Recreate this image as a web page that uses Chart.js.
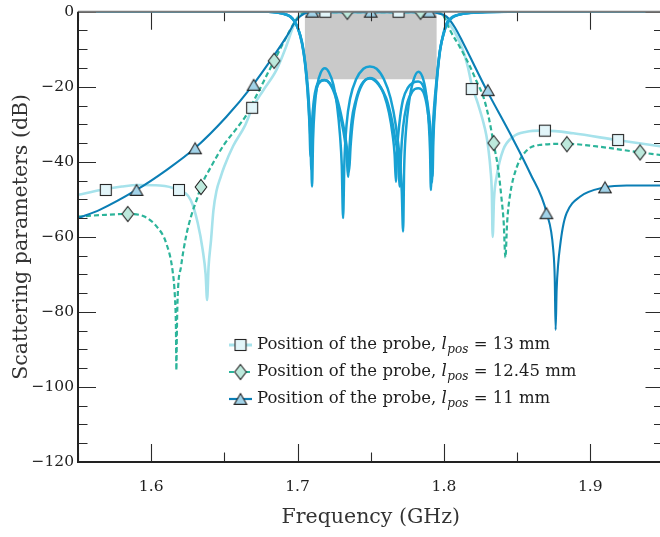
<!DOCTYPE html>
<html>
<head>
<meta charset="utf-8">
<script src="https://cdn.jsdelivr.net/npm/chart.js@4.4.0/dist/chart.umd.min.js"></script>
<style>
html,body{margin:0;padding:0;background:#fff;overflow:hidden;}
#wrap{width:660px;height:537px;overflow:hidden;position:relative;}
canvas{display:block;}
</style>
</head>
<body>
<div id="wrap"><canvas id="c" width="664" height="537"></canvas></div>
<script>
// ---------------- DATA ----------------
const xTicks = [1.6, 1.7, 1.8, 1.9];
const xMinorTicks = [1.55, 1.65, 1.75, 1.85, 1.95];
const yTicks = [-120, -100, -80, -60, -40, -20, 0];
const yMinorTicks = [-115,-110,-105,-95,-90,-85,-75,-70,-65,-55,-50,-45,-35,-30,-25,-15,-10,-5];
const xRange = [1.55, 1.95];
const yRange = [-120, 0];
const passbandMask = [[1.705, -18], [1.795, 0]];
const legendValues = ['13', '12.45', '11'];

// Transmission (S21), lpos = 13 mm
const s21_13 = [[1.55,-48.8],[1.5655,-47.5],[1.58,-46.6],[1.5908,-46.2],[1.6059,-46.3],[1.6181,-47.5],[1.627,-50.2],[1.6318,-56.3],[1.6352,-63.5],[1.6372,-70],[1.6382,-76.8],[1.6392,-68],[1.6409,-60.8],[1.6425,-53],[1.6446,-47.8],[1.6475,-44],[1.650,-41.2],[1.656,-35.8],[1.6639,-30.5],[1.6692,-25.6],[1.6765,-21],[1.6856,-15.5],[1.692,-9.5],[1.697,-4],[1.700,-1.5],[1.703,-0.4],[1.708,-0.1],[1.75,-0.1],[1.792,-0.1],[1.797,-0.4],[1.800,-1.0],[1.8018,-2.2],[1.8075,-5.5],[1.813,-10.2],[1.8165,-15],[1.819,-19.5],[1.8232,-24.5],[1.8266,-29],[1.829,-33],[1.8305,-37],[1.8318,-42],[1.8327,-48],[1.8333,-60],[1.8342,-50],[1.836,-43.9],[1.8405,-36.8],[1.8473,-33.3],[1.8565,-32],[1.8656,-31.7],[1.8695,-31.7],[1.8883,-32.4],[1.918,-34.2],[1.95,-36]];
// Transmission (S21), lpos = 12.45 mm
const s21_1245 = [[1.55,-54.6],[1.5655,-54.2],[1.584,-53.9],[1.5954,-54.6],[1.6045,-57.6],[1.6102,-61.6],[1.6148,-69.6],[1.6162,-76],[1.6169,-84],[1.6172,-95.5],[1.6176,-84],[1.6181,-75.9],[1.6204,-67.9],[1.6238,-59.9],[1.6272,-54.6],[1.6318,-49.3],[1.6339,-46.7],[1.6409,-41.3],[1.650,-35.3],[1.658,-31.3],[1.6651,-27.5],[1.670,-23.8],[1.675,-20],[1.6795,-16.5],[1.684,-13.1],[1.692,-7],[1.698,-2.8],[1.703,-0.6],[1.708,-0.1],[1.75,-0.1],[1.792,-0.1],[1.797,-0.3],[1.800,-1.3],[1.8041,-4.9],[1.811,-9.5],[1.8178,-14.6],[1.8228,-19],[1.8268,-22.5],[1.8305,-28],[1.8339,-35],[1.8371,-42],[1.8394,-50],[1.8408,-56],[1.842,-65.5],[1.8432,-56],[1.8451,-49],[1.8497,-41.5],[1.8565,-37],[1.8656,-35.5],[1.8838,-35.2],[1.9044,-35.9],[1.934,-37.5],[1.95,-38.3]];
// Transmission (S21), lpos = 11 mm
const s21_11 = [[1.55,-55],[1.5648,-52.8],[1.5899,-47.5],[1.6104,-42.2],[1.6298,-36.4],[1.6514,-28],[1.6696,-19.5],[1.6833,-12],[1.6924,-6.7],[1.6993,-2.2],[1.705,-0.4],[1.71,-0.1],[1.75,-0.1],[1.792,-0.1],[1.796,-0.4],[1.8018,-1.3],[1.8075,-4.2],[1.8132,-8.4],[1.8292,-20.9],[1.8451,-32.4],[1.8588,-43],[1.8702,-53.7],[1.8747,-63.5],[1.8757,-71],[1.8763,-84.8],[1.8770,-74],[1.8781,-67],[1.8793,-62.6],[1.8812,-57.5],[1.8838,-53.7],[1.8929,-49.3],[1.910,-46.8],[1.9248,-46.3],[1.95,-46.3]];

// Reflection (S11) curves
const s11_a = [[1.55,0],[1.68,0],[1.686,-0.2],[1.691,-0.6],[1.695,-1.3],[1.698,-2.6],[1.7005,-4.6],[1.703,-8],[1.7052,-13.5],[1.707,-20],[1.7083,-28],[1.7092,-36],[1.7099,-46.6],[1.7106,-34],[1.7118,-25],[1.7135,-19.5],[1.7158,-16.3],[1.7186,-15.1],[1.7215,-16.2],[1.7245,-19.5],[1.727,-25],[1.729,-33],[1.7302,-41],[1.7311,-55],[1.732,-40],[1.7335,-30],[1.736,-23],[1.740,-18],[1.745,-15.2],[1.7494,-14.6],[1.754,-15.2],[1.759,-18],[1.7635,-23],[1.767,-30],[1.770,-40],[1.7712,-48],[1.7721,-58.6],[1.7728,-42],[1.774,-32],[1.7762,-24],[1.779,-18.5],[1.7825,-16],[1.786,-18.2],[1.7882,-23],[1.7897,-30],[1.7905,-37],[1.7911,-47.5],[1.7918,-36],[1.793,-27],[1.795,-18],[1.7972,-10.5],[1.7995,-6],[1.8018,-3.1],[1.805,-1.6],[1.8087,-0.9],[1.815,-0.4],[1.825,-0.15],[1.84,0],[1.95,0]];
const s11_b = [[1.55,0],[1.68,0],[1.686,-0.2],[1.691,-0.6],[1.695,-1.3],[1.698,-2.7],[1.7005,-4.8],[1.703,-8.5],[1.705,-13.5],[1.7068,-21],[1.708,-29],[1.7089,-38.6],[1.7098,-30],[1.711,-24],[1.7128,-20],[1.7155,-18.5],[1.7186,-18.2],[1.722,-19],[1.726,-22],[1.7295,-27],[1.7325,-33],[1.7342,-38],[1.7352,-42.6],[1.7362,-36],[1.7378,-29],[1.740,-24],[1.744,-19.5],[1.7494,-17.7],[1.755,-19],[1.759,-22],[1.7625,-27],[1.765,-33],[1.7663,-38],[1.7672,-45.3],[1.768,-37],[1.7695,-30],[1.772,-23.5],[1.7755,-20.2],[1.779,-18.9],[1.7824,-18.6],[1.786,-20],[1.789,-25],[1.7907,-31],[1.7916,-37],[1.7922,-43.9],[1.7928,-34],[1.794,-25],[1.7955,-17],[1.7975,-10],[1.80,-5.5],[1.8025,-3],[1.806,-1.5],[1.81,-0.8],[1.818,-0.3],[1.83,-0.1],[1.845,0],[1.95,0]];
const s11_c = [[1.55,0],[1.68,0],[1.686,-0.2],[1.691,-0.6],[1.695,-1.3],[1.698,-2.65],[1.7005,-4.7],[1.703,-8.2],[1.705,-13.2],[1.7068,-20.5],[1.708,-28],[1.7088,-34],[1.7094,-42],[1.7102,-31],[1.7113,-24.5],[1.713,-20.5],[1.7157,-18.6],[1.7186,-18.3],[1.722,-19.2],[1.7258,-22.5],[1.729,-27.5],[1.7318,-33],[1.7335,-38],[1.7345,-44],[1.7355,-36],[1.737,-29],[1.7395,-24],[1.7435,-19.5],[1.7494,-17.8],[1.7555,-19.5],[1.7605,-23],[1.764,-28],[1.7668,-34],[1.7687,-39],[1.7699,-46.6],[1.7707,-38],[1.772,-31],[1.7745,-25],[1.7785,-21.2],[1.7824,-20.4],[1.786,-21.5],[1.7885,-25.5],[1.7902,-31],[1.7912,-37],[1.7918,-45.5],[1.7925,-34],[1.7938,-25],[1.7953,-17.5],[1.7973,-10.3],[1.80,-5.7],[1.8022,-3],[1.806,-1.5],[1.81,-0.85],[1.817,-0.35],[1.828,-0.1],[1.842,0],[1.95,0]];

// Markers on the S21 curves
const mk13 = [[1.569,-47.5],[1.619,-47.5],[1.669,-25.6],[1.719,0],[1.769,0],[1.819,-20.6],[1.869,-31.7],[1.919,-34.2]];
const mk1245 = [[1.584,-53.9],[1.634,-46.7],[1.684,-13.1],[1.734,0],[1.784,0],[1.834,-35],[1.884,-35.3],[1.934,-37.5]];
const mk11 = [[1.59,-47.5],[1.63,-36.4],[1.67,-19.5],[1.71,0],[1.75,0],[1.79,0],[1.83,-20.9],[1.87,-53.7],[1.91,-46.8]];

// ---------------- STYLE ----------------
const COL13 = '#a6e2eb', COL1245 = '#2cb49a', COL11 = '#0b7eb5', COLS11 = '#17a1d3';
const DASH = [5, 3];
const FONT = '"DejaVu Serif", serif';
const pts = a => a.map(p => ({x: p[0], y: p[1]}));

function squareImg(){ const c=document.createElement('canvas'); c.width=14; c.height=14; const g=c.getContext('2d');
  g.fillStyle='#e2f5f9'; g.fillRect(1.5,1.5,11,11); g.strokeStyle='#262626'; g.lineWidth=1.1; g.strokeRect(1.5,1.5,11,11); return c; }
function diamondImg(){ const c=document.createElement('canvas'); c.width=14; c.height=18; const g=c.getContext('2d');
  g.beginPath(); g.moveTo(7,1.5); g.lineTo(12.8,9); g.lineTo(7,16.5); g.lineTo(1.2,9); g.closePath();
  g.fillStyle='#bde9dc'; g.fill(); g.strokeStyle='#262626'; g.lineWidth=1.1; g.stroke(); return c; }
function triangleImg(){ const c=document.createElement('canvas'); c.width=16; c.height=14; const g=c.getContext('2d');
  g.beginPath(); g.moveTo(8,1.5); g.lineTo(14.3,12.4); g.lineTo(1.7,12.4); g.closePath();
  g.fillStyle='#a2d3e9'; g.fill(); g.strokeStyle='#262626'; g.lineWidth=1.1; g.stroke(); return c; }
const SQ = squareImg(), DI = diamondImg(), TR = triangleImg();

const lineDS = (data, color, width, dash, order) => ({
  data: pts(data), borderColor: color, borderWidth: width, borderDash: dash || [],
  pointRadius: 0, fill: false, cubicInterpolationMode: 'monotone', order: order, clip: 0
});
const markDS = (data, img) => ({
  data: pts(data), showLine: false, pointStyle: img, pointRadius: 7, order: 0, clip: 0
});

// ---------------- PLUGINS ----------------
const maskPlugin = {
  id: 'mask',
  beforeDatasetsDraw(chart){
    const {ctx, scales:{x, y}} = chart;
    const x0 = x.getPixelForValue(passbandMask[0][0]), x1 = x.getPixelForValue(passbandMask[1][0]);
    const y0 = y.getPixelForValue(passbandMask[1][1]), y1 = y.getPixelForValue(passbandMask[0][1]);
    ctx.save(); ctx.fillStyle = '#c9c9c9'; ctx.fillRect(x0, y0, x1 - x0, y1 - y0); ctx.restore();
  }
};
const clipPlugin = {
  id: 'areaClip',
  beforeDatasetDraw(chart){
    const {ctx, chartArea: a} = chart;
    ctx.save(); ctx.beginPath(); ctx.rect(a.left, a.top, a.right - a.left, a.bottom - a.top); ctx.clip();
  },
  afterDatasetDraw(chart){ chart.ctx.restore(); }
};
const framePlugin = {
  id: 'frame',
  afterDatasetsDraw(chart){
    const {ctx, chartArea: a, scales:{x, y}} = chart;
    ctx.save();
    ctx.strokeStyle = '#2b2b2b'; ctx.lineWidth = 1.1;
    const MAJ = 18, MIN = 9.5;
    ctx.beginPath();
    xTicks.forEach(v => { const p = Math.round(x.getPixelForValue(v)) + 0.5;
      ctx.moveTo(p, a.bottom); ctx.lineTo(p, a.bottom - MAJ); ctx.moveTo(p, a.top); ctx.lineTo(p, a.top + MAJ); });
    xMinorTicks.forEach(v => { const p = Math.round(x.getPixelForValue(v)) + 0.5;
      ctx.moveTo(p, a.bottom); ctx.lineTo(p, a.bottom - MIN); ctx.moveTo(p, a.top); ctx.lineTo(p, a.top + MIN); });
    yTicks.forEach(v => { const p = Math.round(y.getPixelForValue(v)) + 0.5;
      ctx.moveTo(a.left, p); ctx.lineTo(a.left + MAJ, p); ctx.moveTo(a.right, p); ctx.lineTo(a.right - MAJ, p); });
    yMinorTicks.forEach(v => { const p = Math.round(y.getPixelForValue(v)) + 0.5;
      ctx.moveTo(a.left, p); ctx.lineTo(a.left + MIN, p); ctx.moveTo(a.right, p); ctx.lineTo(a.right - MIN, p); });
    ctx.stroke();
    ctx.lineWidth = 2;
    ctx.strokeStyle = '#7c7c7c';
    ctx.beginPath(); ctx.moveTo(a.left, a.top); ctx.lineTo(a.right, a.top); ctx.stroke();
    ctx.strokeStyle = '#222';
    ctx.beginPath(); ctx.moveTo(a.left, a.top); ctx.lineTo(a.left, a.bottom); ctx.lineTo(a.right, a.bottom); ctx.lineTo(a.right, a.top); ctx.stroke();
    ctx.restore();
  }
};
const legendPlugin = {
  id: 'probeLegend',
  afterDraw(chart){
    const ctx = chart.ctx;
    const styles = [
      {color: COL13, width: 3, dash: [], img: SQ},
      {color: COL1245, width: 2.2, dash: DASH, img: DI},
      {color: COL11, width: 2.2, dash: [], img: TR}
    ];
    const x0 = 229, x1 = 252, tx = 257, rows = [345, 372, 399];
    ctx.save();
    legendValues.forEach((val, i) => {
      const s = styles[i], yy = rows[i];
      ctx.strokeStyle = s.color; ctx.lineWidth = s.width; ctx.setLineDash(s.dash);
      ctx.beginPath(); ctx.moveTo(x0, yy); ctx.lineTo(x1, yy); ctx.stroke(); ctx.setLineDash([]);
      ctx.drawImage(s.img, (x0 + x1) / 2 - s.img.width / 2, yy - s.img.height / 2);
      ctx.fillStyle = '#1e1e1e'; ctx.textBaseline = 'middle'; ctx.textAlign = 'left';
      let x = tx;
      ctx.font = '16.5px ' + FONT; const t1 = 'Position of the probe, ';
      ctx.fillText(t1, x, yy); x += ctx.measureText(t1).width;
      ctx.font = 'italic 16.5px ' + FONT; ctx.fillText('l', x, yy); x += ctx.measureText('l').width + 0.5;
      ctx.font = 'italic 12px ' + FONT; ctx.fillText('pos', x, yy + 4.5); x += ctx.measureText('pos').width;
      ctx.font = '16.5px ' + FONT; ctx.fillText(' = ' + val + ' mm', x, yy);
    });
    ctx.restore();
  }
};

// ---------------- CHART ----------------
new Chart(document.getElementById('c'), {
  type: 'line',
  data: {
    datasets: [
      markDS(mk13, SQ), markDS(mk1245, DI), markDS(mk11, TR),
      lineDS(s11_a, COLS11, 2.5, null, 1),
      lineDS(s11_b, COLS11, 2.5, null, 1),
      lineDS(s11_c, COLS11, 2.5, null, 1),
      lineDS(s21_11, COL11, 2.1, null, 2),
      lineDS(s21_1245, COL1245, 2.2, DASH, 3),
      lineDS(s21_13, COL13, 2.6, null, 4)
    ]
  },
  options: {
    responsive: false, animation: false, devicePixelRatio: 1,
    layout: { padding: {top: 11.7, right: 0.5, left: 0, bottom: 0}, autoPadding: false },
    plugins: { legend: {display: false}, tooltip: {enabled: false} },
    scales: {
      x: {
        type: 'linear', min: xRange[0], max: xRange[1],
        grid: {display: false, drawTicks: false}, border: {display: false},
        afterBuildTicks: s => { s.ticks = xTicks.map(v => ({value: v})); },
        afterFit: s => { s.height = 75; s.paddingLeft = 0; s.paddingRight = 0; },
        ticks: { autoSkip: false, maxRotation: 0, padding: 16, color: '#1e1e1e',
                 font: {family: FONT, size: 15.5}, callback: v => v.toFixed(1) },
        title: { display: true, text: 'Frequency (GHz)', color: '#333', font: {family: FONT, size: 20.5},
                 padding: {top: 0, bottom: 7} }
      },
      y: {
        type: 'linear', min: yRange[0], max: yRange[1],
        grid: {display: false, drawTicks: false}, border: {display: false},
        afterBuildTicks: s => { s.ticks = yTicks.map(v => ({value: v})); },
        afterFit: s => { s.width = 78; s.paddingTop = 0; s.paddingBottom = 0; },
        ticks: { autoSkip: false, padding: 4, color: '#1e1e1e',
                 font: {family: FONT, size: 15.5}, callback: v => (v < 0 ? '\u2212' + Math.abs(v) : String(v)) },
        title: { display: true, text: 'Scattering parameters (dB)', color: '#333', font: {family: FONT, size: 20.5},
                 padding: {top: 9, bottom: 0} }
      }
    }
  },
  plugins: [maskPlugin, clipPlugin, framePlugin, legendPlugin]
});
</script>
</body>
</html>
